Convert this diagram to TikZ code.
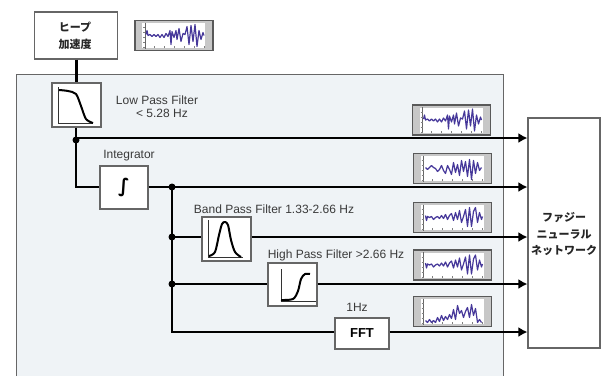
\documentclass[tikz,border=0pt]{standalone}
\usepackage{fontspec}
\setmainfont{Liberation Sans}
\newfontfamily\jpfont{Noto Sans CJK JP}
\newfontfamily\symbfont{DejaVu Sans}
\usetikzlibrary{arrows.meta}
\usetikzlibrary{calc}
\definecolor{panelcol}{HTML}{EFF3F6}
\definecolor{edgecol}{HTML}{666666}
\definecolor{wavecol}{HTML}{46389A}
\definecolor{textcol}{HTML}{3A3A3A}
\tikzset{
  procbox/.style={draw=edgecol,fill=white,line width=1.1pt,inner sep=0pt},
  wavebox/.style={draw=black!65,fill=black!22,line width=1.3pt,inner sep=0pt,minimum width=78pt,minimum height=30pt},
  label/.style={text=textcol,font=\fontsize{12}{13}\selectfont,inner sep=0pt,align=center},
  jplabel/.style={text=black!85,font=\jpfont\bfseries\fontsize{11}{16.5}\selectfont,inner sep=0pt,align=center},
  signal/.style={line width=2.8pt,black},
  feed/.style={signal,-{Latex[length=9pt,width=10pt]}},
  junction/.style={circle,fill=black,inner sep=0pt,minimum size=7pt},
  curveline/.style={line width=2pt,black,line join=round},
  axisline/.style={line width=.9pt,black!80}
}
\newcommand{\drawwave}[2]{
  \fill[white,shift={(#1.center)}] (-32,-12.5) rectangle (31,12.5);
  \draw[black!60,line width=.5pt,shift={(#1.center)}] (-29,-13) -- (-29,13);
  \foreach \i in {-8,-3,...,12} \draw[black!50,line width=.5pt,shift={(#1.center)}] (-31,\i) -- (-29,\i);
  \foreach \i in {-20,-10,...,30} \draw[black!50,line width=.5pt,shift={(#1.center)}] (\i,12.5) -- (\i,10.5);
  \draw[wavecol,line width=1.2pt,line join=round,shift={(#1.center)}] plot coordinates {#2};
}
\newcommand{\wavea}{(-28,-1)(-27,-5)(-26,0)(-24,-1)(-22,1)(-20,-1)(-18,1)(-16,-1)(-14,2)(-12,-1)(-10,2)(-8,-2)(-6,1)(-4,-5)(-3,9)(-2,-4)(0,2)(2,-5)(3,4)(5,-7)(7,6)(9,-2)(11,-1)(13,-9)(15,9)(17,-10)(19,6)(21,-11)(23,11)(25,-5)(27,4)(29,-3)(30,0)}
\newcommand{\waveb}{(-27,-1)(-25,1)(-23,-1)(-21,-3)(-19,-1)(-17,0)(-15,3)(-13,1)(-11,-3)(-9,2)(-7,5)(-5,-3)(-3,1)(-1,6)(1,-6)(3,4)(5,-4)(7,7)(9,-8)(11,3)(13,-7)(15,8)(17,-9)(19,11)(21,-8)(23,5)(25,-6)(27,2)(29,-1)}
\newcommand{\wavec}{(-27,-2)(-26,3)(-25,-1)(-23,0)(-21,-1)(-19,2)(-17,0)(-15,-1)(-13,1)(-11,-2)(-9,1)(-7,-3)(-5,2)(-3,-2)(-1,-4)(1,3)(3,-5)(5,2)(7,-7)(9,5)(11,-1)(13,-8)(15,9)(17,-10)(19,9)(21,-6)(23,-10)(25,5)(27,-5)(29,2)(30,-1)}
\newcommand{\waved}{(-27,9)(-25,11)(-23,8)(-21,11)(-19,9)(-17,11)(-15,6)(-13,10)(-11,4)(-9,9)(-7,5)(-5,8)(-3,3)(-1,7)(1,-2)(3,8)(5,-6)(7,2)(9,-1)(11,6)(13,0)(15,-4)(17,6)(19,-7)(21,4)(23,-3)(25,11)(27,8)(29,11)}
\begin{document}
\begin{tikzpicture}[x=1pt,y=-1pt]
\useasboundingbox (0,0) rectangle (601,376);
% panel
\fill[panelcol] (16,74) rectangle (503,376);
\draw[edgecol,line width=1pt] (16,376) -- (16,74) -- (503,74) -- (503,376);
% blocks
\node[procbox,minimum width=83pt,minimum height=47pt] (heave) at (76,35.5) {};
\node[jplabel] (heavetext) at (75,36) {ヒープ\\加速度};
\node[procbox,minimum width=49pt,minimum height=44pt] (lowpass) at (76.5,105) {};
\node[procbox,minimum width=48pt,minimum height=43pt,font=\symbfont\bfseries\fontsize{19}{21}\selectfont] (integ) at (124,187.5) {∫};
\node[procbox,minimum width=49pt,minimum height=44pt] (bandpass) at (226.5,239) {};
\node[procbox,minimum width=49pt,minimum height=43pt] (highpass) at (292.5,284.5) {};
\node[procbox,minimum width=54pt,minimum height=31pt,font=\bfseries\fontsize{13}{15}\selectfont] (fft) at (362,333.5) {FFT};
\node[procbox,minimum width=72pt,minimum height=230pt] (fuzzy) at (564,233) {};
\node[jplabel] (fuzzytext) at (564,234.5) {ファジー\\ニューラル\\ネットワーク};
% texts
\node[label] (lowtext) at (157,107) {Low Pass Filter\\\ \ \ < 5.28 Hz};
\node[label] (integtext) at (129,155.5) {Integrator};
\node[label] (bandtext) at (274,209) {Band Pass Filter 1.33-2.66 Hz};
\node[label] (hightext) at (336,255) {High Pass Filter >2.66 Hz};
\node[label] (fftext) at (357,307.5) {1Hz};
% junctions
\node[junction] (ja) at (76,140) {};
\node[junction] (jb) at (172,187) {};
\node[junction] (jc) at (172,237) {};
\node[junction] (jd) at (172,284) {};
\coordinate (je) at (172,332);
\coordinate (jf) at (76,187);
\coordinate (jg) at (76,138);
% signal lines
\draw[signal] (heave.south -| lowpass.north) -- (lowpass.north);
\draw[signal] (lowpass.south -| ja) -- (ja.center) -- (jf) -- (integ.west |- jf);
\draw[signal] (jb.center) -- (je) -- (fft.west |- je);
\draw[signal] (jc.center) -- (bandpass.west |- jc);
\draw[signal] (jd.center) -- (highpass.west |- jd);
\draw[feed] (jg) -- (fuzzy.west |- jg);
\draw[feed] (integ.east |- jb) -- (fuzzy.west |- jb);
\draw[feed] (bandpass.east |- jc) -- (fuzzy.west |- jc);
\draw[feed] (highpass.east |- jd) -- (fuzzy.west |- jd);
\draw[feed] (fft.east |- je) -- (fuzzy.west |- je);
% filter curves
\draw[axisline] (58.5,87) -- (58.5,123.5) -- (93,123.5);
\draw[curveline] plot[smooth] coordinates {(59,90) (68,91) (76,94) (81,106) (86,119) (93,123)};
\draw[axisline] (208,220) -- (208,257) -- (243,257);
\draw[curveline] plot[smooth] coordinates {(209,256) (215,252) (219,235) (222,224) (225,222) (228,225) (231,240) (235,252) (241,257)};
\draw[axisline] (281,269) -- (281,301) -- (316,301);
\draw[curveline] plot[smooth] coordinates {(281,300) (293,299) (298,291) (301,279) (305,274) (310,274)};
% wave thumbnails
\node[wavebox] (wavetop) at (174,35.5) {};
\drawwave{wavetop}{\wavea}
\node[wavebox] (wavelow) at (451.5,120) {};
\drawwave{wavelow}{\wavea}
\node[wavebox] (waveint) at (452.5,168.5) {};
\drawwave{waveint}{\waveb}
\node[wavebox] (waveband) at (452.5,217.5) {};
\drawwave{waveband}{\wavec}
\node[wavebox] (wavehigh) at (452.5,265) {};
\drawwave{wavehigh}{\wavec}
\node[wavebox] (wavefft) at (452.5,311.5) {};
\drawwave{wavefft}{\waved}
\end{tikzpicture}
\end{document}
